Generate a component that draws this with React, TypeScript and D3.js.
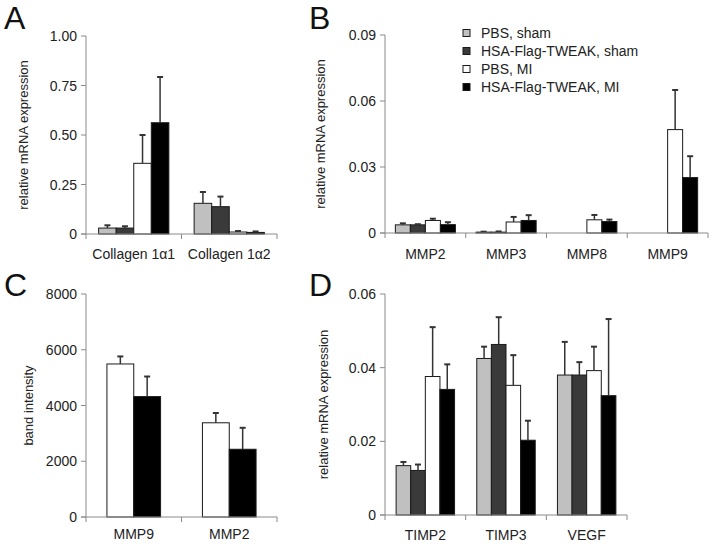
import React from "react";
import * as d3 from "d3";

const seriesNames = ["PBS, sham", "HSA-Flag-TWEAK, sham", "PBS, MI", "HSA-Flag-TWEAK, MI"];
const seriesColors = ["#c0c0c0", "#3a3a3a", "#ffffff", "#000000"];

// Panel A
const aCategories = ["Collagen 1α1", "Collagen 1α2"];
const aMeans = [
  [0.03, 0.155],
  [0.03, 0.138],
  [0.357, 0.01],
  [0.562, 0.008],
];
const aSem = [
  [0.014, 0.057],
  [0.009, 0.051],
  [0.143, 0.005],
  [0.231, 0.005],
];
const aTicks = [0, 0.25, 0.5, 0.75, 1.0];
const aTickLabels = ["0", "0.25", "0.50", "0.75", "1.00"];

// Panel B
const bCategories = ["MMP2", "MMP3", "MMP8", "MMP9"];
const bMeans = [
  [0.0037, 0.0004, 0, 0],
  [0.0037, 0.0004, 0, 0],
  [0.0057, 0.005, 0.006, 0.047],
  [0.0038, 0.0057, 0.0052, 0.0252],
];
const bSem = [
  [0.0007, 0.0002, 0, 0],
  [0.0003, 0.0003, 0, 0],
  [0.0008, 0.0023, 0.0022, 0.018],
  [0.0011, 0.0024, 0.0009, 0.0097],
];
const bTicks = [0, 0.03, 0.06, 0.09];
const bTickLabels = ["0", "0.03", "0.06", "0.09"];

// Panel C (PBS, MI and HSA-Flag-TWEAK, MI only)
const cCategories = ["MMP9", "MMP2"];
const cSeries = [2, 3];
const cMeans = [
  [5490, 3380],
  [4320, 2430],
];
const cSem = [
  [270, 350],
  [720, 770],
];
const cTicks = [0, 2000, 4000, 6000, 8000];
const cTickLabels = ["0", "2000", "4000", "6000", "8000"];

// Panel D
const dCategories = ["TIMP2", "TIMP3", "VEGF"];
const dMeans = [
  [0.0134, 0.0425, 0.038],
  [0.0121, 0.0463, 0.038],
  [0.0376, 0.0352, 0.0392],
  [0.0341, 0.0203, 0.0324],
];
const dSem = [
  [0.001, 0.0032, 0.009],
  [0.0016, 0.0074, 0.0035],
  [0.0134, 0.0082, 0.0065],
  [0.0068, 0.0053, 0.0208],
];
const dTicks = [0, 0.02, 0.04, 0.06];
const dTickLabels = ["0", "0.02", "0.04", "0.06"];

const FONT = "'Liberation Sans', Arial, Helvetica, sans-serif";
const AXIS = "#8a8a8a";

type PanelProps = {
  letter: string;
  letterX: number;
  letterY: number;
  x0: number;
  x1: number;
  yTop: number;
  yBottom: number;
  max: number;
  ticks: number[];
  tickLabels: string[];
  categories: string[];
  means: number[][];
  sem: number[][];
  series: number[];
  pad: number;
  yLabel: string;
  yLabelX: number;
  catLabelY: number;
};

function Panel(p: PanelProps) {
  const y = d3.scaleLinear().domain([0, p.max]).range([p.yBottom, p.yTop]);
  const x = d3.scaleBand<string>().domain(p.categories).range([p.x0, p.x1]).padding(0);
  const inner = d3
    .scaleBand<number>()
    .domain(p.series)
    .range([0, x.bandwidth()])
    .paddingInner(0)
    .paddingOuter(p.pad);
  const bw = inner.bandwidth();
  const boundaries = p.categories.map((c) => x(c) as number).concat([p.x1]);
  return (
    <g>
      <text x={p.letterX} y={p.letterY} fontSize={32} fontFamily={FONT} fill="#111">
        {p.letter}
      </text>
      <text
        transform={`translate(${p.yLabelX},${(p.yTop + p.yBottom) / 2}) rotate(-90)`}
        textAnchor="middle"
        dominantBaseline="central"
        fontSize={13}
        fontFamily={FONT}
        fill="#222"
      >
        {p.yLabel}
      </text>
      {p.series.map((s, si) =>
        p.categories.map((c, ci) => {
          const v = p.means[si][ci];
          if (v <= 0) return null;
          const bx = (x(c) as number) + (inner(s) as number);
          return (
            <rect
              key={`b${si}-${ci}`}
              x={bx}
              y={y(v)}
              width={bw}
              height={y(0) - y(v)}
              fill={seriesColors[s]}
              stroke="#1a1a1a"
              strokeWidth={1}
            />
          );
        })
      )}
      {p.series.map((s, si) =>
        p.categories.map((c, ci) => {
          const v = p.means[si][ci];
          const e = p.sem[si][ci];
          if (v <= 0 || e <= 0) return null;
          const cx = (x(c) as number) + (inner(s) as number) + bw / 2;
          return (
            <g key={`e${si}-${ci}`} stroke="#333" strokeWidth={1.5}>
              <line x1={cx} x2={cx} y1={y(v)} y2={y(v + e)} />
              <line x1={cx - 3} x2={cx + 3} y1={y(v + e)} y2={y(v + e)} strokeWidth={2} />
            </g>
          );
        })
      )}
      <line x1={p.x0} x2={p.x0} y1={p.yTop} y2={p.yBottom} stroke={AXIS} strokeWidth={1} />
      <line x1={p.x0 - 5} x2={p.x1} y1={p.yBottom} y2={p.yBottom} stroke={AXIS} strokeWidth={1} />
      {p.ticks.map((t, i) => (
        <g key={`t${i}`}>
          <line x1={p.x0 - 5} x2={p.x0} y1={y(t)} y2={y(t)} stroke={AXIS} strokeWidth={1} />
          <text
            x={p.x0 - 9}
            y={y(t)}
            textAnchor="end"
            dominantBaseline="central"
            fontSize={14}
            fontFamily={FONT}
            fill="#222"
          >
            {p.tickLabels[i]}
          </text>
        </g>
      ))}
      {boundaries.map((bx, i) => (
        <line key={`xt${i}`} x1={bx} x2={bx} y1={p.yBottom} y2={p.yBottom + 5} stroke={AXIS} strokeWidth={1} />
      ))}
      {p.categories.map((c) => (
        <text
          key={`c${c}`}
          x={(x(c) as number) + x.bandwidth() / 2}
          y={p.catLabelY}
          textAnchor="middle"
          fontSize={14}
          fontFamily={FONT}
          fill="#222"
        >
          {c}
        </text>
      ))}
    </g>
  );
}

function Legend() {
  return (
    <g>
      {seriesNames.map((n, i) => (
        <g key={n} transform={`translate(0,${33 + i * 18})`}>
          <rect x={463} y={-3.5} width={7} height={7} fill={seriesColors[i]} stroke="#1a1a1a" strokeWidth={1} />
          <text x={481} y={0} dominantBaseline="central" fontSize={14} fontFamily={FONT} fill="#222">
            {n}
          </text>
        </g>
      ))}
    </g>
  );
}

export default function App() {
  return (
    <svg
      width={714}
      height={547}
      style={{ position: "absolute", left: 0, top: 0, background: "#fff" }}
    >
      <rect width={714} height={547} fill="#fff" />
      <Panel
        letter="A"
        letterX={4}
        letterY={29}
        x0={86}
        x1={277}
        yTop={36}
        yBottom={234}
        max={1}
        ticks={aTicks}
        tickLabels={aTickLabels}
        categories={aCategories}
        means={aMeans}
        sem={aSem}
        series={[0, 1, 2, 3]}
        pad={0.72}
        yLabel="relative mRNA expression"
        yLabelX={23}
        catLabelY={259}
      />
      <Panel
        letter="B"
        letterX={309}
        letterY={29}
        x0={385}
        x1={708}
        yTop={35}
        yBottom={233}
        max={0.09}
        ticks={bTicks}
        tickLabels={bTickLabels}
        categories={bCategories}
        means={bMeans}
        sem={bSem}
        series={[0, 1, 2, 3]}
        pad={0.69}
        yLabel="relative mRNA expression"
        yLabelX={320}
        catLabelY={259}
      />
      <Panel
        letter="C"
        letterX={4}
        letterY={296}
        x0={86}
        x1={277}
        yTop={294}
        yBottom={517}
        max={8000}
        ticks={cTicks}
        tickLabels={cTickLabels}
        categories={cCategories}
        means={cMeans}
        sem={cSem}
        series={cSeries}
        pad={0.78}
        yLabel="band intensity"
        yLabelX={28}
        catLabelY={539}
      />
      <Panel
        letter="D"
        letterX={309}
        letterY={296}
        x0={385}
        x1={627}
        yTop={294}
        yBottom={515}
        max={0.06}
        ticks={dTicks}
        tickLabels={dTickLabels}
        categories={dCategories}
        means={dMeans}
        sem={dSem}
        series={[0, 1, 2, 3]}
        pad={0.76}
        yLabel="relative mRNA expression"
        yLabelX={323}
        catLabelY={540}
      />
      <Legend />
    </svg>
  );
}
